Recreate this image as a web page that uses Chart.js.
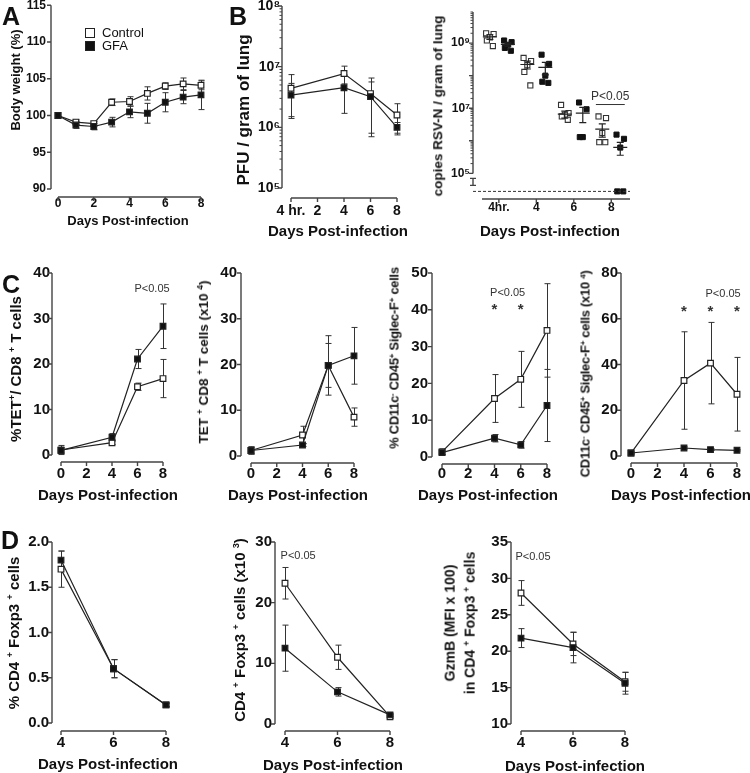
<!DOCTYPE html>
<html lang="en">
<head>
<meta charset="UTF-8" />
<title>Body weight, viral load and lung cell counts after RSV infection</title>
<script src="https://cdn.jsdelivr.net/npm/chart.js@4.4.1/dist/chart.umd.min.js"></script>
<style>
  body { margin: 0; width: 750px; height: 773px; position: relative; overflow: hidden; background: #fff;
         font-family: "Liberation Sans", Arial, sans-serif; color: #111; }
  canvas { position: absolute; left: 0; top: 0; }
  .t { position: absolute; white-space: nowrap; font-weight: bold; transform: translate(-50%, -50%); line-height: 1; }
  .v { transform: translate(-50%, -50%) rotate(-90deg); }
  .t sup { font-size: 0.62em; vertical-align: 0.55em; }
  .letter { position: absolute; font-weight: bold; font-size: 25px; line-height: 1; }
  .leg { position: absolute; font-size: 13px; line-height: 1; display: flex; align-items: center; }
  .leg i { display: inline-block; width: 8px; height: 8px; border: 1.3px solid #222; margin-right: 7px; }
</style>
</head>
<body>
<canvas id="pA" width="750" height="773"></canvas>
<canvas id="pBL" width="750" height="773"></canvas>
<canvas id="pBR" width="750" height="773"></canvas>
<canvas id="pC1" width="750" height="773"></canvas>
<canvas id="pC2" width="750" height="773"></canvas>
<canvas id="pC3" width="750" height="773"></canvas>
<canvas id="pC4" width="750" height="773"></canvas>
<canvas id="pD1" width="750" height="773"></canvas>
<canvas id="pD2" width="750" height="773"></canvas>
<canvas id="pD3" width="750" height="773"></canvas>

<div class="letter" style="left:2px;top:4px">A</div>
<div class="letter" style="left:229px;top:4px">B</div>
<div class="letter" style="left:2px;top:272px">C</div>
<div class="letter" style="left:1px;top:528px">D</div>

<div class="leg" style="left:85px;top:26px"><i style="background:#fff"></i>Control</div>
<div class="leg" style="left:85px;top:39px"><i style="background:#111"></i>GFA</div>

<div class="t v" style="left:15px;top:80px;font-size:13px">Body weight (%)</div>
<div class="t v" style="left:243px;top:110px;font-size:17px">PFU / gram of lung</div>
<div class="t v" style="left:438px;top:106px;font-size:13.5px">copies RSV-N / gram of lung</div>
<div class="t v" style="left:15px;top:369px;font-size:15px">%TET<sup>+</sup>/ CD8 <sup>+</sup> T cells</div>
<div class="t v" style="left:203px;top:362px;font-size:13.5px">TET <sup>+</sup> CD8 <sup>+</sup> T cells (x10 <sup>4</sup>)</div>
<div class="t v" style="left:394px;top:358px;font-size:13px;letter-spacing:-0.3px">% CD11c<sup>-</sup> CD45<sup>+</sup> Siglec-F<sup>+</sup> cells</div>
<div class="t v" style="left:585px;top:374px;font-size:13px;letter-spacing:-0.3px">CD11c<sup>-</sup> CD45<sup>+</sup> Siglec-F<sup>+</sup> cells (x10 <sup>4</sup>)</div>
<div class="t v" style="left:13px;top:633px;font-size:15px">% CD4 <sup>+</sup> Foxp3 <sup>+</sup> cells</div>
<div class="t v" style="left:239px;top:630px;font-size:15px">CD4 <sup>+</sup> Foxp3 <sup>+</sup> cells (x10 <sup>3</sup>)</div>
<div class="t v" style="left:460px;top:623px;font-size:14px;line-height:17px;text-align:center">GzmB (MFI x 100)<br>in CD4 <sup>+</sup> Foxp3 <sup>+</sup> cells</div>

<div class="t" style="left:128px;top:220px;font-size:13px">Days Post-infection</div>
<div class="t" style="left:338px;top:230px;font-size:15px">Days Post-infection</div>
<div class="t" style="left:550px;top:230px;font-size:15px">Days Post-infection</div>
<div class="t" style="left:108px;top:494px;font-size:15px">Days Post-infection</div>
<div class="t" style="left:298px;top:494px;font-size:15px">Days Post-infection</div>
<div class="t" style="left:488px;top:494px;font-size:15px">Days Post-infection</div>
<div class="t" style="left:681px;top:494px;font-size:15px">Days Post-infection</div>
<div class="t" style="left:108px;top:763px;font-size:15px">Days Post-infection</div>
<div class="t" style="left:333px;top:764px;font-size:15px">Days Post-infection</div>
<div class="t" style="left:575px;top:765px;font-size:15px">Days Post-infection</div>

<script>
const FONT = '"Liberation Sans", Arial, sans-serif';

// ---- A: body weight
const daysA = [0, 1, 2, 3, 4, 5, 6, 7, 8];
const weightCtrl = [100, 99.1, 98.9, 101.8, 101.9, 103.0, 104.0, 104.3, 104.1];
const weightCtrlSem = [0, 0.3, 0.3, 0.45, 0.65, 0.9, 0.45, 0.8, 0.6];
const weightGfa = [100, 98.7, 98.5, 99.1, 100.5, 100.3, 101.8, 102.5, 102.8];
const weightGfaSem = [0, 0.45, 0.45, 0.65, 0.8, 1.35, 1.3, 0.9, 2.0];
const aYTicks = [90, 95, 100, 105, 110, 115];
const aXTicks = [0, 2, 4, 6, 8];

// ---- B left: PFU (day 0 is the 4 hr. sample)
const daysB = [0, 4, 6, 8];
const pfuCtrl = [4.4e6, 7.7e6, 3.6e6, 1.6e6];
const pfuCtrlSem = [3.0e6, 2.5e6, 2.9e6, 0.85e6];
const pfuGfa = [3.4e6, 4.5e6, 3.2e6, 1.0e6];
const pfuGfaSem = [1.9e6, 2.8e6, 2.4e6, 0.2e6];
const bLeftXTicks = [0, 2, 4, 6, 8];
const bLeftXLabels = ['4 hr.', '2', '4', '6', '8'];
const bLeftYTicks = [1e5, 1e6, 1e7, 1e8];
const bLeftYLabels = ['10\u2075', '10\u2076', '10\u2077', '10\u2078'];

// ---- B right: RSV-N copies, individual mice
const bRightGroups = ['4hr.', '4', '6', '8'];
const rsvCtrl = [
  [2.0e9, 1.9e9, 1.5e9, 1.2e9, 8.1e8],
  [3.5e8, 2.8e8, 2.1e8, 1.3e8, 5.0e7],
  [1.26e7, 7.1e6, 6.3e6, 5.6e6, 4.4e6],
  [5.6e6, 5.0e6, 1.74e6, 9.1e5, 9.1e5]
];
const rsvGfa = [
  [1.2e9, 1.07e9, 8.9e8, 7.1e8, 5.8e8],
  [4.4e8, 2.3e8, 1.0e8, 6.5e7, 6.0e7],
  [1.5e7, 9.3e6, 1.3e6, 1.3e6],
  [1.55e6, 1.15e6, 6.2e5]
];
const rsvCtrlBelowLod = [0, 0, 0, 1];
const rsvGfaBelowLod = [0, 0, 0, 2];
const rsvCtrlMean = [1.55e9, 2.2e8, 6.6e6, 2.3e6];
const rsvCtrlSem = [0.25e9, 0.6e8, 1.6e6, 1.0e6];
const rsvGfaMean = [9.1e8, 1.8e8, 7.1e6, 6.3e5];
const rsvGfaSem = [0.1e9, 0.75e8, 3.5e6, 2.7e5];
const rsvLod = 2.8e4;
const bRightYTicks = [1e5, 1e6, 1e7, 1e8, 1e9];
const bRightYLabels = ['10\u2075', '', '10\u2077', '', '10\u2079'];
const jitter = [-0.1, 0.1, 0, -0.08, 0.08];

// ---- C
const daysC = [0, 4, 6, 8];
const cXTicks = [0, 2, 4, 6, 8];
const tetPctCtrl = [1.1, 2.7, 15.0, 16.8];
const tetPctCtrlSem = [1.0, 0.4, 0.8, 4.2];
const tetPctGfa = [1.0, 3.9, 21.1, 28.3];
const tetPctGfaSem = [0.6, 0.8, 2.1, 4.9];
const tetNumCtrl = [1.2, 4.6, 19.8, 8.5];
const tetNumCtrlSem = [0.8, 1.9, 6.5, 2.0];
const tetNumGfa = [1.2, 2.4, 19.8, 21.9];
const tetNumGfaSem = [0.8, 0.3, 4.8, 6.2];
const eosPctCtrl = [1.4, 15.9, 21.1, 34.4];
const eosPctCtrlSem = [0.8, 6.5, 7.6, 12.7];
const eosPctGfa = [1.2, 5.1, 3.3, 14.0];
const eosPctGfaSem = [0.6, 1.0, 0.9, 9.8];
const eosNumCtrl = [1.3, 33.0, 40.6, 27.0];
const eosNumCtrlSem = [0.5, 21.3, 17.8, 16.1];
const eosNumGfa = [1.3, 3.5, 2.8, 2.5];
const eosNumGfaSem = [0.3, 0.5, 0.4, 0.3];

// ---- D
const daysD = [4, 6, 8];
const dXTicks = [4, 6, 8];
const tregPctCtrl = [1.7, 0.6, 0.2];
const tregPctCtrlSem = [0.2, 0.1, 0.02];
const tregPctGfa = [1.8, 0.6, 0.2];
const tregPctGfaSem = [0.1, 0.1, 0.02];
const tregNumCtrl = [23.2, 11.0, 1.2];
const tregNumCtrlSem = [2.6, 2.0, 0.3];
const tregNumGfa = [12.5, 5.3, 1.5];
const tregNumGfaSem = [3.8, 0.7, 0.3];
const gzmbCtrl = [28.0, 21.0, 15.8];
const gzmbCtrlSem = [1.7, 1.6, 1.3];
const gzmbGfa = [21.8, 20.5, 15.6];
const gzmbGfaSem = [1.3, 2.1, 1.5];
const d1YLabels = ['0.0', '0.5', '1.0', '1.5', '2.0'];

// error bars (mean +/- SEM) under the markers
const errorBars = {
  id: 'errorBars',
  beforeDatasetsDraw(chart) {
    const { ctx, scales: { x, y } } = chart;
    ctx.save();
    ctx.strokeStyle = '#333';
    ctx.lineWidth = 1;
    chart.data.datasets.forEach(ds => {
      if (!ds.sem) return;
      ds.data.forEach((p, i) => {
        const e = ds.sem[i];
        if (!e) return;
        const px = Math.round(x.getPixelForValue(p.x)) + 0.5;
        const lo = p.y - e > 0 ? p.y - e : y.min;
        const y1 = y.getPixelForValue(p.y + e), y2 = y.getPixelForValue(lo);
        ctx.beginPath();
        ctx.moveTo(px, y1); ctx.lineTo(px, y2);
        ctx.moveTo(px - 3, y1); ctx.lineTo(px + 3, y1);
        ctx.moveTo(px - 3, y2); ctx.lineTo(px + 3, y2);
        ctx.stroke();
      });
    });
    ctx.restore();
  }
};

// mean and SEM bars for the scatter panel
const meanBars = {
  id: 'meanBars',
  afterDatasetsDraw(chart) {
    const { ctx, scales: { x, y } } = chart;
    ctx.save();
    ctx.strokeStyle = '#222';
    ctx.lineWidth = 1.2;
    chart.data.datasets.forEach(ds => {
      if (!ds.means) return;
      ds.means.forEach((m, g) => {
        const cx = x.getPixelForValue(g + ds.offset);
        const pm = y.getPixelForValue(m);
        const pt = y.getPixelForValue(m + ds.sems[g]);
        const pb = y.getPixelForValue(m - ds.sems[g]);
        ctx.beginPath();
        ctx.moveTo(cx - 7, pm); ctx.lineTo(cx + 7, pm);
        ctx.moveTo(cx, pt); ctx.lineTo(cx, pb);
        ctx.moveTo(cx - 3.5, pt); ctx.lineTo(cx + 3.5, pt);
        ctx.moveTo(cx - 3.5, pb); ctx.lineTo(cx + 3.5, pb);
        ctx.stroke();
      });
    });
    ctx.restore();
  }
};

// detached axes like the original figure
const prismAxes = {
  id: 'prismAxes',
  afterDraw(chart, args, o) {
    const { ctx, chartArea: a, scales: { x, y } } = chart;
    const ax = a.left - o.gx, ay = a.bottom + o.gy;
    ctx.save();
    ctx.strokeStyle = '#444';
    ctx.lineWidth = 1.4;
    ctx.beginPath();
    const yEnd = o.yAxisBottom ? y.getPixelForValue(o.yAxisBottom) : a.bottom;
    ctx.moveTo(ax, a.top); ctx.lineTo(ax, yEnd);
    y.ticks.forEach(t => { const p = y.getPixelForValue(t.value); ctx.moveTo(ax, p); ctx.lineTo(ax - 4, p); });
    ctx.moveTo(a.left, ay); ctx.lineTo(a.right, ay);
    x.ticks.forEach(t => { const p = x.getPixelForValue(t.value); ctx.moveTo(p, ay); ctx.lineTo(p, ay + 4); });
    ctx.stroke();
    if (o.minorLog) {
      ctx.lineWidth = 1;
      ctx.beginPath();
      const low = o.yAxisBottom || y.min;
      for (let n = Math.floor(Math.log10(low)); n <= Math.ceil(Math.log10(y.max)); n++) {
        for (let k = 2; k <= 9; k++) {
          const v = k * Math.pow(10, n);
          if (v < low || v > y.max) continue;
          const p = y.getPixelForValue(v);
          ctx.moveTo(ax, p); ctx.lineTo(ax - 2.5, p);
        }
      }
      ctx.stroke();
    }
    if (o.yAxisBottom) {
      // axis break symbol
      ctx.lineWidth = 1.4;
      ctx.beginPath();
      ctx.moveTo(ax, yEnd + 5); ctx.lineTo(ax, yEnd + 12);
      ctx.moveTo(ax - 3, yEnd + 5); ctx.lineTo(ax + 3, yEnd + 5);
      ctx.moveTo(ax - 3, yEnd + 12); ctx.lineTo(ax + 3, yEnd + 12);
      ctx.stroke();
    }
    if (o.lod) {
      const p = y.getPixelForValue(o.lod);
      ctx.setLineDash([3, 2]);
      ctx.lineWidth = 1;
      ctx.strokeStyle = '#333';
      ctx.beginPath();
      ctx.moveTo(ax, p); ctx.lineTo(a.right, p);
      ctx.stroke();
    }
    ctx.restore();
  }
};

// P values and stars, placed in data coordinates
const notes = {
  id: 'notes',
  afterDraw(chart, args, o) {
    const { ctx, scales: { x, y } } = chart;
    ctx.save();
    ctx.textAlign = 'center';
    ctx.textBaseline = 'middle';
    ctx.fillStyle = '#333';
    ctx.strokeStyle = '#333';
    (o.texts || []).forEach(t => {
      ctx.font = (t.bold ? 'bold ' : '') + (t.size || 11) + 'px ' + FONT;
      ctx.fillText(t.text, x.getPixelForValue(t.x), y.getPixelForValue(t.y));
    });
    (o.lines || []).forEach(l => {
      const p = y.getPixelForValue(l.y);
      ctx.lineWidth = 1;
      ctx.beginPath();
      ctx.moveTo(x.getPixelForValue(l.x1), p); ctx.lineTo(x.getPixelForValue(l.x2), p);
      ctx.stroke();
    });
    ctx.restore();
  }
};

function series(label, xs, ys, sem, filled) {
  return {
    label: label,
    data: xs.map((v, i) => ({ x: v, y: ys[i] })),
    sem: sem,
    borderColor: '#222',
    borderWidth: 1.2,
    pointStyle: 'rect',
    pointRadius: 4,
    pointBorderWidth: 1.2,
    pointBackgroundColor: filled ? '#111' : '#fff',
    pointBorderColor: '#222',
    clip: false,
    tension: 0
  };
}

function axis(o, box, horizontal) {
  return {
    type: o.type || 'linear',
    min: o.min,
    max: o.max,
    grid: { display: false, drawTicks: false },
    border: { display: false },
    afterBuildTicks: s => { s.ticks = o.ticks.map(v => ({ value: v })); },
    ticks: {
      autoSkip: false,
      maxRotation: 0,
      padding: horizontal ? box.xp : box.yp,
      color: '#111',
      font: { family: FONT, size: box.fs, weight: 'bold' },
      callback: (v, i) => o.labels ? o.labels[i] : String(v)
    },
    afterFit: s => {
      if (horizontal) s.height = 773 - box.b; else s.width = box.l;
      s.paddingLeft = 0; s.paddingRight = 0; s.paddingTop = 0; s.paddingBottom = 0;
    }
  };
}

function panel(id, box, xo, yo, datasets, extra) {
  extra = extra || {};
  return new Chart(document.getElementById(id), {
    type: 'line',
    data: { datasets: datasets },
    options: {
      responsive: false,
      animation: false,
      events: [],
      layout: { padding: { left: 0, top: box.t, right: 750 - box.r, bottom: 0 } },
      plugins: {
        legend: { display: false },
        tooltip: { enabled: false },
        prismAxes: Object.assign({ gx: box.gx, gy: box.gy }, extra.axes || {}),
        notes: extra.notes || {}
      },
      scales: { x: axis(xo, box, true), y: axis(yo, box, false) }
    },
    plugins: [errorBars, meanBars, prismAxes, notes]
  });
}

// A
panel('pA', { l: 58, t: 5, r: 201, b: 189, gx: 7, gy: 8, fs: 12, xp: 7, yp: 12 },
  { min: 0, max: 8, ticks: aXTicks },
  { min: 90, max: 115, ticks: aYTicks },
  [series('GFA', daysA, weightGfa, weightGfaSem, true),
   series('Control', daysA, weightCtrl, weightCtrlSem, false)]);

// B left
panel('pBL', { l: 291, t: 6, r: 397, b: 188, gx: 9, gy: 10, fs: 14, xp: 15, yp: 11 },
  { min: 0, max: 8, ticks: bLeftXTicks, labels: bLeftXLabels },
  { type: 'logarithmic', min: 1e5, max: 1e8, ticks: bLeftYTicks, labels: bLeftYLabels },
  [series('GFA', daysB, pfuGfa, pfuGfaSem, true),
   series('Control', daysB, pfuCtrl, pfuCtrlSem, false)],
  { axes: { minorLog: true } });

// B right
function mice(groups, below, offset) {
  const data = [];
  groups.forEach((vals, g) => {
    vals.forEach((v, k) => data.push({ x: g + offset + jitter[k], y: v }));
    for (let k = 0; k < below[g]; k++) data.push({ x: g + offset + jitter[vals.length + k], y: rsvLod });
  });
  return data;
}
const ctrlPts = mice(rsvCtrl, rsvCtrlBelowLod, -0.24);
const gfaPts = mice(rsvGfa, rsvGfaBelowLod, 0.24);
panel('pBR', { l: 482, t: 12, r: 630, b: 193, gx: 9, gy: 6, fs: 12, xp: 7, yp: 12 },
  { min: -0.45, max: 3.5, ticks: [0, 1, 2, 3], labels: bRightGroups },
  { type: 'logarithmic', min: 2.5e4, max: 9e9, ticks: bRightYTicks, labels: bRightYLabels },
  [{ label: 'GFA', data: gfaPts, showLine: false, pointStyle: 'rect', pointRadius: 3.6,
     pointBackgroundColor: '#111', pointBorderColor: '#111', pointBorderWidth: 1, clip: false,
     means: rsvGfaMean, sems: rsvGfaSem, offset: 0.24 },
   { label: 'Control', data: ctrlPts, showLine: false, pointStyle: 'rect', pointRadius: 3.6,
     pointBackgroundColor: ctrlPts.map(p => p.y === rsvLod ? '#999' : '#fff'),
     pointBorderColor: '#333', pointBorderWidth: 1.1, clip: false,
     means: rsvCtrlMean, sems: rsvCtrlSem, offset: -0.24 }],
  { axes: { minorLog: true, yAxisBottom: 1e5, lod: rsvLod },
    notes: { texts: [{ x: 2.97, y: 2.2e7, text: 'P<0.05', size: 12 }],
             lines: [{ x1: 2.59, x2: 3.36, y: 1.3e7 }] } });

// C
const cBox = (l, r, xp, yp) => ({ l: l, t: 273, r: r, b: 456, gx: 10, gy: 7, fs: 15, xp: xp, yp: yp });
panel('pC1', { l: 61, t: 273, r: 163, b: 455, gx: 9, gy: 7, fs: 15, xp: 10, yp: 11 },
  { min: 0, max: 8, ticks: cXTicks },
  { min: 0, max: 40, ticks: [0, 10, 20, 30, 40] },
  [series('GFA', daysC, tetPctGfa, tetPctGfaSem, true),
   series('Control', daysC, tetPctCtrl, tetPctCtrlSem, false)],
  { notes: { texts: [{ x: 7.14, y: 36.5, text: 'P<0.05' }] } });

panel('pC2', cBox(251, 354, 9, 14),
  { min: 0, max: 8, ticks: cXTicks },
  { min: 0, max: 40, ticks: [0, 10, 20, 30, 40] },
  [series('GFA', daysC, tetNumGfa, tetNumGfaSem, true),
   series('Control', daysC, tetNumCtrl, tetNumCtrlSem, false)]);

panel('pC3', { l: 442, t: 273, r: 547, b: 457, gx: 10, gy: 7, fs: 15, xp: 8, yp: 14 },
  { min: 0, max: 8, ticks: cXTicks },
  { min: 0, max: 50, ticks: [0, 10, 20, 30, 40, 50] },
  [series('GFA', daysC, eosPctGfa, eosPctGfaSem, true),
   series('Control', daysC, eosPctCtrl, eosPctCtrlSem, false)],
  { notes: { texts: [{ x: 5.0, y: 44.6, text: 'P<0.05' },
                     { x: 4, y: 40, text: '*', size: 15, bold: true },
                     { x: 6, y: 40, text: '*', size: 15, bold: true }] } });

panel('pC4', cBox(631, 737, 9, 13),
  { min: 0, max: 8, ticks: cXTicks },
  { min: 0, max: 80, ticks: [0, 20, 40, 60, 80] },
  [series('GFA', daysC, eosNumGfa, eosNumGfaSem, true),
   series('Control', daysC, eosNumCtrl, eosNumCtrlSem, false)],
  { notes: { texts: [{ x: 6.95, y: 71, text: 'P<0.05' },
                     { x: 4, y: 63, text: '*', size: 15, bold: true },
                     { x: 6, y: 63, text: '*', size: 15, bold: true },
                     { x: 8, y: 63, text: '*', size: 15, bold: true }] } });

// D
panel('pD1', { l: 61, t: 542, r: 166, b: 723, gx: 9, gy: 8, fs: 15, xp: 11, yp: 12 },
  { min: 4, max: 8, ticks: dXTicks },
  { min: 0, max: 2, ticks: [0, 0.5, 1, 1.5, 2], labels: d1YLabels },
  [series('GFA', daysD, tregPctGfa, tregPctGfaSem, true),
   series('Control', daysD, tregPctCtrl, tregPctCtrlSem, false)]);

panel('pD2', { l: 285, t: 542, r: 390, b: 724, gx: 10, gy: 7, fs: 15, xp: 10, yp: 13 },
  { min: 4, max: 8, ticks: dXTicks },
  { min: 0, max: 30, ticks: [0, 10, 20, 30] },
  [series('GFA', daysD, tregNumGfa, tregNumGfaSem, true),
   series('Control', daysD, tregNumCtrl, tregNumCtrlSem, false)],
  { notes: { texts: [{ x: 4.5, y: 27.7, text: 'P<0.05' }] } });

panel('pD3', { l: 521, t: 542, r: 625, b: 724, gx: 10, gy: 7, fs: 15, xp: 10, yp: 13 },
  { min: 4, max: 8, ticks: dXTicks },
  { min: 10, max: 35, ticks: [10, 15, 20, 25, 30, 35] },
  [series('GFA', daysD, gzmbGfa, gzmbGfaSem, true),
   series('Control', daysD, gzmbCtrl, gzmbCtrlSem, false)],
  { notes: { texts: [{ x: 4.46, y: 32.9, text: 'P<0.05' }] } });
</script>
</body>
</html>
